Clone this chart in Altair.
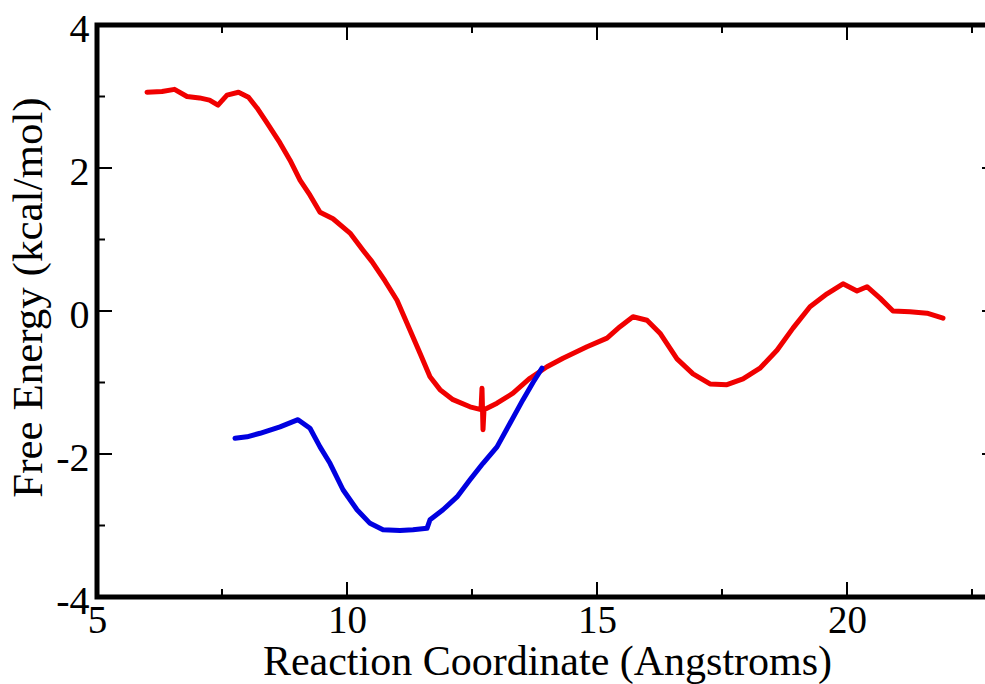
import altair as alt
import pandas as pd

# Red curve (Reaction coordinate, Free energy)
red_x = [6.0, 6.3, 6.55, 6.8, 7.05, 7.25, 7.42, 7.6, 7.83, 8.03, 8.2, 8.4, 8.66, 8.86,
         9.06, 9.26, 9.46, 9.72, 10.06, 10.32, 10.5, 10.76, 11.0, 11.2, 11.46, 11.66,
         11.86, 12.12, 12.46, 12.68, 12.70, 12.72, 12.74, 13.0, 13.32, 13.66, 14.0,
         14.32, 14.8, 15.2, 15.46, 15.72, 16.0, 16.26, 16.6, 16.92, 17.26, 17.6, 17.92,
         18.26, 18.6, 18.92, 19.26, 19.6, 19.92, 20.2, 20.4, 20.66, 20.92, 21.26, 21.6, 21.92]
red_y = [3.06, 3.07, 3.10, 3.0, 2.98, 2.95, 2.88, 3.02, 3.06, 2.99, 2.84, 2.63, 2.35, 2.11,
         1.83, 1.62, 1.38, 1.29, 1.09, 0.85, 0.69, 0.42, 0.15, -0.17, -0.59, -0.92,
         -1.1, -1.24, -1.34, -1.38, -1.08, -1.66, -1.38, -1.29, -1.15, -0.94, -0.78,
         -0.66, -0.5, -0.38, -0.22, -0.08, -0.13, -0.31, -0.67, -0.88, -1.02, -1.03, -0.95,
         -0.80, -0.55, -0.24, 0.06, 0.24, 0.38, 0.28, 0.34, 0.18, 0.0, -0.01, -0.03, -0.1]

# Blue curve
blue_x = [7.76, 8.0, 8.26, 8.66, 9.02, 9.26, 9.46, 9.66, 9.92, 10.2, 10.46, 10.72, 11.06,
          11.32, 11.6, 11.66, 11.92, 12.2, 12.46, 12.72, 13.0, 13.26, 13.52, 13.72, 13.9]
blue_y = [-1.78, -1.76, -1.71, -1.62, -1.52, -1.64, -1.9, -2.13, -2.5, -2.78, -2.97, -3.06,
          -3.07, -3.06, -3.04, -2.92, -2.78, -2.6, -2.36, -2.13, -1.9, -1.57, -1.24, -1.0, -0.8]

# Axis ticks
x_major = [10, 15, 20]
x_minor = [7.5, 12.5, 17.5, 22.5]
y_major = [-2, 0, 2]
y_minor = [-3, -1, 1, 3]
x_labels = [5, 10, 15, 20]
y_labels = [-4, -2, 0, 2, 4]

W, H = 900, 572
FONT = "Liberation Serif"

xs = alt.Scale(domain=[5, 23], nice=False, zero=False)
ys = alt.Scale(domain=[-4, 4], nice=False, zero=False)

x_axis = alt.Axis(values=x_labels, title="Reaction Coordinate (Angstroms)",
                  ticks=False, tickSize=0, domain=False, grid=False,
                  labelExpr="'' + datum.value",
                  labelFont=FONT, labelFontSize=39, labelColor="black",
                  labelBaseline="alphabetic", labelPadding=35, labelFlush=False,
                  labelOverlap=False, labelBound=False,
                  titleFont=FONT, titleFontSize=42, titleFontWeight="normal",
                  titleColor="black", titleBaseline="alphabetic", titleY=77)
y_axis = alt.Axis(values=y_labels, title="Free Energy (kcal/mol)",
                  ticks=False, tickSize=0, domain=False, grid=False,
                  labelExpr="'' + datum.value",
                  labelFont=FONT, labelFontSize=40, labelColor="black",
                  labelBaseline="alphabetic", labelOffset=16, labelPadding=8,
                  labelFlush=False, labelOverlap=False, labelBound=False,
                  titleFont=FONT, titleFontSize=43, titleFontWeight="normal",
                  titleColor="black", titleBaseline="alphabetic", titleAlign="center",
                  titleAngle=270, titleX=-56, titleY=272)

red_df = pd.DataFrame({"x": red_x, "y": red_y})
blue_df = pd.DataFrame({"x": blue_x, "y": blue_y})

red = alt.Chart(red_df).mark_line(color="#f00000", strokeWidth=5,
                                  strokeJoin="round", strokeCap="round").encode(
    x=alt.X("x:Q", scale=xs, axis=x_axis),
    y=alt.Y("y:Q", scale=ys, axis=y_axis),
)
blue = alt.Chart(blue_df).mark_line(color="#0000e0", strokeWidth=5,
                                    strokeJoin="round", strokeCap="round").encode(
    x=alt.X("x:Q", scale=xs, axis=x_axis),
    y=alt.Y("y:Q", scale=ys, axis=y_axis),
)

def xticks(vals, length):
    d = pd.DataFrame({"x": vals})
    bottom = alt.Chart(d).mark_rule(color="black", strokeWidth=2).encode(
        x=alt.X("x:Q", scale=xs, axis=x_axis),
        y=alt.value(H), y2=alt.value(H - length))
    top = alt.Chart(d).mark_rule(color="black", strokeWidth=2).encode(
        x=alt.X("x:Q", scale=xs, axis=x_axis),
        y=alt.value(0), y2=alt.value(length))
    return [bottom, top]

def yticks(vals, length):
    d = pd.DataFrame({"y": vals})
    left = alt.Chart(d).mark_rule(color="black", strokeWidth=2).encode(
        y=alt.Y("y:Q", scale=ys, axis=y_axis),
        x=alt.value(0), x2=alt.value(length))
    right = alt.Chart(d).mark_rule(color="black", strokeWidth=2).encode(
        y=alt.Y("y:Q", scale=ys, axis=y_axis),
        x=alt.value(W), x2=alt.value(W - length))
    return [left, right]

layers = [red, blue] + xticks(x_major, 15) + xticks(x_minor, 8) + yticks(y_major, 15) + yticks(y_minor, 8)

chart = alt.layer(*layers).properties(
    width=W, height=H,
    autosize=alt.AutoSizeParams(type="none"),
    padding={"left": 97, "top": 25, "right": -12, "bottom": 87},
    background="white",
).configure_view(stroke="black", strokeWidth=5)

chart.save("out.html", embed_options={"renderer": "svg", "actions": False})
